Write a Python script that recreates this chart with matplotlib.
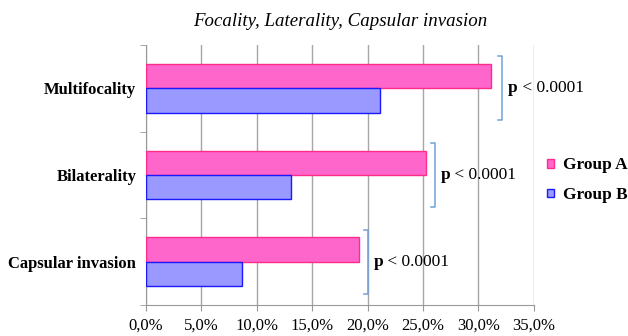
import numpy as np
import matplotlib.pyplot as plt
from matplotlib.ticker import FuncFormatter

# data
categories = ['Capsular invasion', 'Bilaterality', 'Multifocality']
group_a = [19.2, 25.3, 31.1]
group_b = [8.7, 13.1, 21.1]
p_labels = ['< 0.0001', '< 0.0001', '< 0.0001']
bracket_x = [20.0, 26.05, 32.1]

plt.rcParams['font.family'] = ['Liberation Serif', 'DejaVu Serif']

fig = plt.figure(figsize=(6.28, 3.36), dpi=100)
ax = fig.add_axes([0.2325, 0.092, 0.6175, 0.774])

y = np.arange(len(categories))
h = 0.28
ax.barh(y + h / 2, group_a, height=h, color='#ff66cc', edgecolor='#ff2d8a',
        linewidth=1.0, label='Group A', zorder=3)
ax.barh(y - h / 2, group_b, height=h, color='#9999ff', edgecolor='#1a1aff',
        linewidth=1.0, label='Group B', zorder=3)

ax.set_xlim(0, 35)
ax.set_ylim(-0.5, 2.5)
ax.set_xticks(np.arange(0, 36, 5))
ax.xaxis.set_major_formatter(FuncFormatter(lambda v, p: f'{v:.1f}%'.replace('.', ',')))
ax.set_yticks(y)
ax.set_yticklabels(categories, fontsize=12, fontweight='bold')
ax.set_yticks(np.arange(-0.5, 2.6, 1), minor=True)
ax.tick_params(axis='y', which='major', length=0, pad=7)
ax.tick_params(axis='y', which='minor', length=4, color='#999999')
ax.tick_params(axis='x', length=4, color='#999999', labelsize=12, pad=5)
ax.grid(axis='x', color='#a6a6a6', linewidth=1.0, zorder=0)
for s in ['top', 'right']:
    ax.spines[s].set_visible(False)
for s in ['left', 'bottom']:
    ax.spines[s].set_color('#999999')

# significance brackets
for yi, bx, lab in zip(y, bracket_x, p_labels):
    ax.plot([bx - 0.35, bx, bx, bx - 0.35], [yi + 0.37, yi + 0.37, yi - 0.37, yi - 0.37],
            color='#6fa0d8', linewidth=1.1, clip_on=False, zorder=4)
    t = ax.text(bx + 0.55, yi, 'p', fontsize=12.5, fontweight='bold',
                va='center', ha='left', zorder=5)
    ax.annotate(' ' + lab, xy=(1, 0.5), xycoords=t, va='center', ha='left',
                fontsize=12.5, zorder=5)

ax.legend(loc='center left', bbox_to_anchor=(1.034, 0.48), frameon=False,
          prop={'size': 12.4, 'weight': 'bold'}, handlelength=0.42,
          handleheight=0.42, handletextpad=0.5, labelspacing=0.8,
          borderaxespad=0, borderpad=0)

ax.set_title('Focality, Laterality, Capsular invasion', fontsize=13.6,
             style='italic', pad=14)

plt.savefig('out.png', dpi=100)
